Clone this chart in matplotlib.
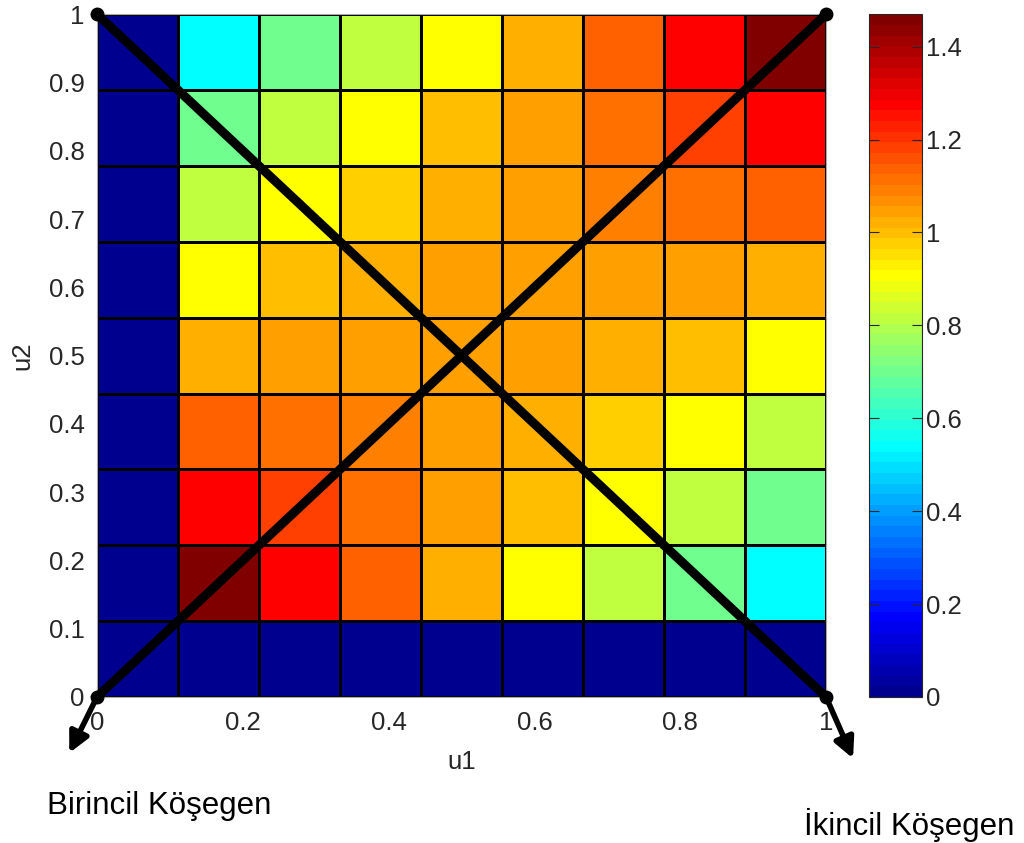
import numpy as np
import matplotlib
matplotlib.use("Agg")
import matplotlib.pyplot as plt
from matplotlib.colors import ListedColormap

plt.rcParams['font.family'] = ['Liberation Sans', 'DejaVu Sans']

# cell values, rows from u2 = 0 (bottom) to u2 = 1 (top), columns u1 = 0 -> 1
row1 = [0, 0.00, 0.00, 0.00, 0.00, 0.00, 0.00, 0.00, 0.00]
row2 = [0, 1.47, 1.275, 1.14, 1.02, 0.905, 0.815, 0.71, 0.55]
row3 = [0, 1.275, 1.19, 1.115, 1.05, 1.00, 0.905, 0.815, 0.71]
row4 = [0, 1.14, 1.115, 1.10, 1.05, 1.03, 0.98, 0.905, 0.815]
row5 = [0, 1.02, 1.05, 1.05, 1.05, 1.05, 1.02, 1.00, 0.905]
row6 = [0, 0.905, 1.00, 1.03, 1.05, 1.05, 1.05, 1.05, 1.02]
row7 = [0, 0.815, 0.905, 0.98, 1.02, 1.05, 1.10, 1.115, 1.14]
row8 = [0, 0.71, 0.815, 0.905, 1.00, 1.05, 1.115, 1.19, 1.275]
row9 = [0, 0.55, 0.71, 0.815, 0.905, 1.02, 1.14, 1.275, 1.47]

# the two diagonals
diag1_u1 = [0, 1]
diag1_u2 = [0, 1]
diag2_u1 = [0, 1]
diag2_u2 = [1, 0]

x_ticks = [0, 0.2, 0.4, 0.6, 0.8, 1]
x_labels = ['0', '0.2', '0.4', '0.6', '0.8', '1']
y_ticks = [0, 0.1, 0.2, 0.3, 0.4, 0.5, 0.6, 0.7, 0.8, 0.9, 1]
y_labels = ['0', '0.1', '0.2', '0.3', '0.4', '0.5', '0.6', '0.7', '0.8', '0.9', '1']
cb_ticks = [0, 0.2, 0.4, 0.6, 0.8, 1, 1.2, 1.4]
cb_labels = ['0', '0.2', '0.4', '0.6', '0.8', '1', '1.2', '1.4']

C = np.array([row1, row2, row3, row4, row5, row6, row7, row8, row9])
edges = np.linspace(0, 1, C.shape[0] + 1)


def matlab_jet(m=64):
    # same construction as MATLAB's jet(m)
    n = int(np.ceil(m / 4))
    u = np.concatenate([np.arange(1, n + 1) / n, np.ones(n - 1), np.arange(n, 0, -1) / n])
    g = int(np.ceil(n / 2)) - (1 if m % 4 == 1 else 0) + np.arange(1, len(u) + 1)
    r = g + n
    b = g - n
    J = np.zeros((m, 3))
    for ch, idx in enumerate([r, g, b]):
        ok = (idx >= 1) & (idx <= m)
        J[idx[ok] - 1, ch] = u[ok]
    return ListedColormap(J)


fig = plt.figure(figsize=(10.24, 8.43), dpi=100)
ax = fig.add_axes([0.0947, 0.1732, 0.712, 0.810])
cax = fig.add_axes([0.8486, 0.1732, 0.0518, 0.810])

mesh = ax.pcolormesh(edges, edges, C, cmap=matlab_jet(64),
                     vmin=0, vmax=1.47, edgecolors='k', linewidth=1)
ax.set_axisbelow(True)

ax.plot(diag1_u1, diag1_u2, color='k', lw=6.5, marker='o', ms=9, clip_on=False, zorder=5)
ax.plot(diag2_u1, diag2_u2, color='k', lw=6.5, marker='o', ms=9, clip_on=False, zorder=5)

ax.set_xlim(0, 1)
ax.set_ylim(0, 1)
ax.set_xticks(x_ticks, x_labels)
ax.set_yticks(y_ticks, y_labels)
ax.tick_params(direction='in', labelsize=18.5, colors='#262626', length=7)
ax.tick_params(axis='y', pad=9)
ax.tick_params(axis='x', pad=10)
ax.set_xlabel('u1', fontsize=18.5, color='#262626', labelpad=11)
ax.set_ylabel('u2', fontsize=18.5, color='#262626', labelpad=10)
for s in ax.spines.values():
    s.set_color('#aaaaaa')

cb = fig.colorbar(mesh, cax=cax, ticks=cb_ticks)
cb.set_ticklabels(cb_labels)
cax.tick_params(direction='in', labelsize=18.5, colors='#262626', length=7,
                left=True, right=True, pad=3)
cb.outline.set_edgecolor('#262626')

# arrows pointing out of the bottom corners
arrow = dict(arrowstyle='-|>', lw=4, mutation_scale=30, color='k', shrinkA=0, shrinkB=0)
ax.annotate('', xy=(-0.038, -0.082), xytext=(0, 0), arrowprops=arrow, annotation_clip=False)
ax.annotate('', xy=(1.037, -0.09), xytext=(1, 0), arrowprops=arrow, annotation_clip=False)

fig.text(0.155, 0.044, 'Birincil Köşegen', fontsize=22.5, ha='center', va='center')
fig.text(0.888, 0.021, 'İkincil Köşegen', fontsize=22.5, ha='center', va='center')

fig.savefig('out.png', dpi=100)
